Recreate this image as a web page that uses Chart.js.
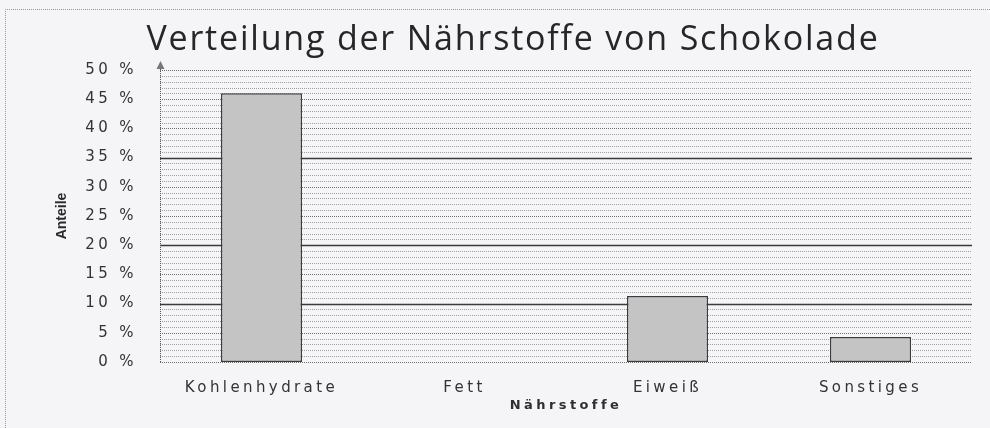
<!DOCTYPE html>
<html lang="de">
  <head>
    <meta charset="UTF-8" />
    <title>Verteilung der Nährstoffe von Schokolade</title>
    <script src="https://cdn.jsdelivr.net/npm/chart.js@4"></script>
    <style>
      html, body { margin: 0; padding: 0; background: #f5f5f7; }
      #wrap { width: 990px; height: 428px; position: relative; }
    </style>
  </head>
  <body>
    <div id="wrap"><canvas id="chart"></canvas></div>
    <script>
      // data (Fett is left blank in the original)
      const categories = ["Kohlenhydrate", "Fett", "Eiweiß", "Sonstiges"];
      const shares = [46, null, 11.3, 4.3];
      const yTicks = [0, 5, 10, 15, 20, 25, 30, 35, 40, 45, 50];
      const solidLines = [10, 20, 35];

      // the scanned sheet has wide, spaced lettering
      const spacing = "3.4px";

      // page background, dotted frame, 1% grid, axis arrow, titles
      const sheet = {
        id: "sheet",
        beforeLayout(chart) {
          chart.ctx.letterSpacing = spacing;
        },
        beforeDraw(chart) {
          const ctx = chart.ctx;
          ctx.letterSpacing = spacing;
          ctx.save();
          ctx.fillStyle = "#f5f5f7";
          ctx.fillRect(0, 0, chart.width, chart.height);
          ctx.strokeStyle = "#9a9a9a";
          ctx.lineWidth = 1;
          ctx.setLineDash([1, 1]);
          ctx.beginPath();
          ctx.moveTo(5.5, chart.height);
          ctx.lineTo(5.5, 9.5);
          ctx.lineTo(chart.width, 9.5);
          ctx.stroke();
          ctx.restore();

          ctx.save();
          ctx.letterSpacing = "1.8px";
          ctx.fillStyle = "#262626";
          ctx.font = "34px 'Open Sans'";
          ctx.textAlign = "center";
          ctx.textBaseline = "middle";
          ctx.fillText("Verteilung der Nährstoffe von Schokolade", 513, 40);
          ctx.restore();
        },
        beforeDatasetsDraw(chart) {
          const ctx = chart.ctx;
          const y = chart.scales.y;
          const { left, right } = chart.chartArea;
          ctx.save();
          for (let v = 0; v <= 50; v++) {
            const py = Math.round(y.getPixelForValue(v)) + 0.5;
            ctx.beginPath();
            if (solidLines.includes(v)) {
              ctx.setLineDash([]);
              ctx.strokeStyle = "#3a3a3a";
              ctx.lineWidth = 1.6;
            } else {
              ctx.setLineDash([1, 1]);
              ctx.strokeStyle = v % 5 === 0 ? "#6e6e6e" : "#a0a0a0";
              ctx.lineWidth = 1;
            }
            ctx.moveTo(left, py);
            ctx.lineTo(right, py);
            ctx.stroke();
          }
          // dotted y axis with a small arrow head
          const top = y.getPixelForValue(50) - 4;
          const bottom = y.getPixelForValue(0);
          ctx.setLineDash([1, 1]);
          ctx.strokeStyle = "#555";
          ctx.lineWidth = 1;
          ctx.beginPath();
          ctx.moveTo(left + 0.5, bottom);
          ctx.lineTo(left + 0.5, top);
          ctx.stroke();
          ctx.setLineDash([]);
          ctx.fillStyle = "#777";
          ctx.beginPath();
          ctx.moveTo(left + 0.5, top - 5);
          ctx.lineTo(left - 3.5, top + 3);
          ctx.lineTo(left + 4.5, top + 3);
          ctx.closePath();
          ctx.fill();
          ctx.restore();
        },
        afterDraw(chart) {
          const ctx = chart.ctx;
          const y = chart.scales.y;
          ctx.save();
          ctx.letterSpacing = "0px";
          ctx.translate(62, (y.top + y.bottom) / 2);
          ctx.rotate(-Math.PI / 2);
          ctx.fillStyle = "#2a2a2a";
          ctx.font = "bold 14px 'Liberation Sans Narrow', 'Liberation Sans'";
          ctx.textAlign = "center";
          ctx.textBaseline = "middle";
          ctx.fillText("Anteile", 0, 0);
          ctx.restore();
        }
      };

      new Chart(document.getElementById("chart"), {
        type: "bar",
        data: {
          labels: categories,
          datasets: [{
            label: "Anteile",
            data: shares,
            backgroundColor: "#c4c4c4",
            borderColor: "#3c3c3c",
            borderWidth: 1.5,
            borderSkipped: false,
            categoryPercentage: 1,
            barPercentage: 0.4
          }]
        },
        options: {
          responsive: true,
          maintainAspectRatio: false,
          animation: false,
          layout: { padding: { top: 70, right: 18, left: 0, bottom: 0 } },
          plugins: {
            legend: { display: false },
            title: { display: false },
            tooltip: { enabled: false }
          },
          scales: {
            x: {
              grid: { display: false },
              border: { display: false },
              ticks: {
                padding: 9,
                color: "#333",
                font: { family: "'DejaVu Sans'", size: 15 }
              },
              title: {
                display: true,
                text: "Nährstoffe",
                color: "#2f2f2f",
                padding: { top: 0, bottom: 15 },
                font: { family: "'DejaVu Sans'", size: 13, weight: "bold" }
              },
              afterFit(scale) { scale.height = 66; }
            },
            y: {
              min: 0,
              max: 50,
              grid: { display: false, drawTicks: false },
              border: { display: false },
              afterBuildTicks(scale) {
                scale.ticks = yTicks.map(v => ({ value: v }));
              },
              ticks: {
                padding: 23,
                color: "#333",
                font: { family: "'DejaVu Sans'", size: 15 },
                callback: v => v + " %"
              },
              afterFit(scale) { scale.width = 160; }
            }
          }
        },
        plugins: [sheet]
      });
    </script>
  </body>
</html>
